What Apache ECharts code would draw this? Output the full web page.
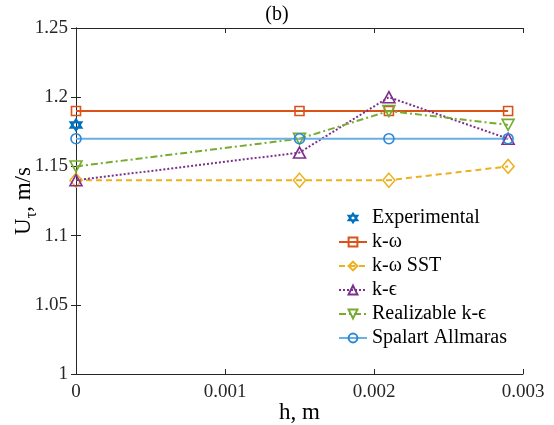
<!DOCTYPE html>
<html>
<head>
<meta charset="utf-8">
<script src="https://cdn.jsdelivr.net/npm/echarts@6/dist/echarts.min.js"></script>
<style>
html,body{margin:0;padding:0;background:#fff;}
#chart{width:554px;height:425px;}
</style>
</head>
<body>
<div id="chart"></div>
<script>
// 数据
var hVals = [0, 0.0015, 0.0021, 0.0029];
var expH = [0];
var expU = [1.18];
var kOmega = [1.19, 1.19, 1.19, 1.19];
var kOmegaSST = [1.14, 1.14, 1.14, 1.15];
var kEps = [1.14, 1.16, 1.20, 1.17];
var realKEps = [1.15, 1.17, 1.19, 1.18];
var spalart = [1.17, 1.17, 1.17, 1.17];
var xTicks = [0, 0.001, 0.002, 0.003];
var yTicks = [1, 1.05, 1.1, 1.15, 1.2, 1.25];

var font = 'Liberation Serif, Times New Roman, serif';
var hexagram = 'path://M50,0 L93.3,75 L6.7,75 Z M50,100 L93.3,25 L6.7,25 Z';

function pairs(xs, ys) {
    var out = [];
    for (var i = 0; i < ys.length; i++) {
        out.push([xs[i], ys[i]]);
    }
    return out;
}

function tickText(list) {
    return function (v) {
        for (var i = 0; i < list.length; i++) {
            if (Math.abs(v - list[i]) < 1e-9) return String(list[i]);
        }
        return '';
    };
}

//一条曲线
function makeLine(name, ys, color, symbol, size, dash, markerColor) {
    return {
        name: name,
        type: 'line',
        data: pairs(hVals, ys),
        symbol: symbol,
        symbolSize: size,
        showAllSymbol: true,
        lineStyle: {color: color, width: 2, type: dash},
        itemStyle: {color: 'rgba(255,255,255,0)', borderColor: markerColor || color, borderWidth: 1.6},
        emphasis: {disabled: true},
        z: 3
    };
}

var axisColor = '#262626';
var chart = echarts.init(document.getElementById('chart'));
var option = {
    animation: false,
    backgroundColor: '#fff',
    title: {
        text: '(b)',
        left: 'center',
        top: 0,
        textStyle: {fontFamily: font, fontSize: 20, fontWeight: 'normal', color: '#000'}
    },
    grid: {left: 76, right: 31, top: 28, bottom: 51, containLabel: false, outerBoundsMode: 'none'},
    legend: {
        orient: 'vertical',
        left: 333,
        top: 203,
        itemGap: 4,
        itemWidth: 28,
        itemHeight: 11,
        textStyle: {fontFamily: font, fontSize: 20, color: '#000'},
        data: ['Experimental', 'k-ω', 'k-ω SST', 'k-ϵ', 'Realizable k-ϵ', 'Spalart Allmaras']
    },
    xAxis: [{
        type: 'value',
        min: 0, max: 0.003, interval: 0.001,
        name: 'h, m',
        nameLocation: 'middle',
        nameGap: 27,
        nameMoveOverlap: false,
        nameTextStyle: {fontFamily: font, fontSize: 23, color: '#000'},
        axisLine: {lineStyle: {color: axisColor, width: 1}},
        axisTick: {inside: true, length: 5, lineStyle: {color: axisColor}},
        axisLabel: {fontFamily: font, fontSize: 19, color: axisColor, margin: 9, formatter: tickText(xTicks)},
        splitLine: {show: false}
    }, {
        type: 'value',
        position: 'top',
        min: 0, max: 0.003, interval: 0.001,
        axisLine: {lineStyle: {color: axisColor, width: 1}},
        axisTick: {inside: true, length: 5, lineStyle: {color: axisColor}},
        axisLabel: {show: false},
        splitLine: {show: false}
    }],
    yAxis: [{
        type: 'value',
        min: 1, max: 1.25, interval: 0.05,
        name: '{a|U}{s|τ}{a|, m/s}',
        nameLocation: 'middle',
        nameGap: 36,
        nameMoveOverlap: false,
        nameTextStyle: {
            fontFamily: font, fontSize: 23, color: '#000',
            rich: {
                a: {fontFamily: font, fontSize: 23, color: '#000', verticalAlign: 'top', lineHeight: 28},
                s: {fontFamily: font, fontSize: 16, color: '#000', verticalAlign: 'bottom', lineHeight: 28}
            }
        },
        axisLine: {lineStyle: {color: axisColor, width: 1}},
        axisTick: {inside: true, length: 5, lineStyle: {color: axisColor}},
        axisLabel: {fontFamily: font, fontSize: 19, color: axisColor, margin: 8, formatter: tickText(yTicks)},
        splitLine: {show: false}
    }, {
        type: 'value',
        position: 'right',
        min: 1, max: 1.25, interval: 0.05,
        axisLine: {show: true, lineStyle: {color: axisColor, width: 1}},
        axisTick: {show: true, inside: true, length: 5, lineStyle: {color: axisColor}},
        axisLabel: {show: false},
        splitLine: {show: false}
    }],
    series: [
        {
            name: 'Experimental',
            type: 'line',
            data: pairs(expH, expU),
            symbol: hexagram,
            symbolSize: 11,
            lineStyle: {width: 0},
            itemStyle: {color: 'rgba(255,255,255,0)', borderColor: '#0072BD', borderWidth: 2},
            emphasis: {disabled: true},
            z: 4
        },
        makeLine('k-ω', kOmega, '#D95319', 'rect', 9, 'solid'),
        makeLine('k-ω SST', kOmegaSST, '#EDB120', 'diamond', [12, 14], [6, 4]),
        makeLine('k-ϵ', kEps, '#7E2F8E', 'triangle', [12, 11], [2, 2]),
        makeLine('Realizable k-ϵ', realKEps, '#77AC30', 'path://M0,0 L100,0 L50,86.6 Z', [12, 11], [7, 3, 2, 3]),
        makeLine('Spalart Allmaras', spalart, '#6AB0E2', 'circle', 10, 'solid', '#2B88D8')
    ]
};
chart.setOption(option);
</script>
</body>
</html>
